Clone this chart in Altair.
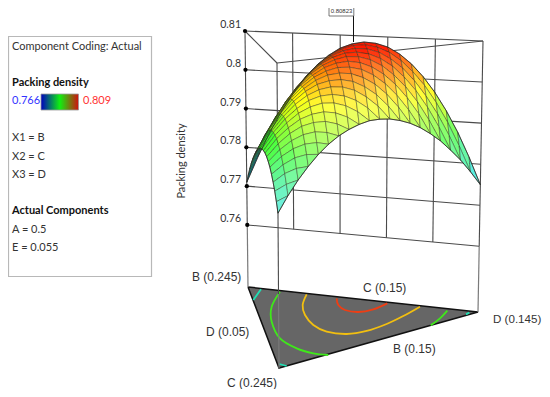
import altair as alt
import pandas as pd

ZF = 0.744
ZT = 0.81
B0, C0, D0 = (248, 287), (279, 368), (478, 312)
B1, C1, D1 = (245, 31), (277, 63), (483, 41)

# Packing density: row = C step, column = D step
z_rows = [
 [.7710,.7779,.7842,.7897,.7945,.7986,.8020,.8047,.8067,.8079,.8085,.8083,.8075,.8059,.8036,.8006,.7969,.7925,.7874,.7815,.7750],
 [.7736,.7802,.7862,.7914,.7959,.7997,.8029,.8052,.8069,.8079,.8082,.8077,.8066,.8047,.8021,.7989,.7949,.7902,.7847,.7786],
 [.7759,.7822,.7879,.7929,.7971,.8006,.8034,.8055,.8069,.8076,.8076,.8069,.8054,.8033,.8004,.7968,.7926,.7876,.7819],
 [.7780,.7840,.7894,.7941,.7980,.8013,.8038,.8056,.8067,.8071,.8068,.8058,.8041,.8016,.7985,.7946,.7900,.7847],
 [.7798,.7856,.7907,.7951,.7987,.8017,.8039,.8054,.8063,.8064,.8058,.8045,.8024,.7997,.7963,.7921,.7873],
 [.7814,.7869,.7917,.7958,.7992,.8018,.8038,.8050,.8056,.8054,.8045,.8029,.8006,.7976,.7939,.7894],
 [.7828,.7880,.7925,.7963,.7994,.8018,.8034,.8044,.8046,.8042,.8030,.8011,.7985,.7952,.7912],
 [.7840,.7889,.7931,.7966,.7994,.8015,.8029,.8035,.8035,.8027,.8013,.7991,.7962,.7926],
 [.7849,.7895,.7934,.7967,.7992,.8010,.8020,.8024,.8021,.8010,.7993,.7968,.7936],
 [.7856,.7899,.7935,.7965,.7987,.8002,.8010,.8011,.8005,.7991,.7971,.7943],
 [.7860,.7901,.7934,.7960,.7980,.7992,.7997,.7995,.7986,.7970,.7946],
 [.7862,.7900,.7930,.7954,.7970,.7980,.7982,.7977,.7965,.7946],
 [.7862,.7897,.7924,.7945,.7958,.7965,.7964,.7956,.7941],
 [.7859,.7891,.7916,.7934,.7944,.7948,.7944,.7933],
 [.7854,.7883,.7905,.7920,.7928,.7928,.7922],
 [.7847,.7873,.7892,.7904,.7909,.7907],
 [.7837,.7860,.7877,.7886,.7888],
 [.7825,.7846,.7859,.7865],
 [.7811,.7828,.7839],
 [.7794,.7809],
 [.7775],
]

c_red = [.0218,.1054,.1605,.1676,.1122,.0153]
d_red = [.3826,.3785,.400,.457,.5298,.6037]
c_yel = [.0123,.1553,.2809,.398,.4652,.4673,.4006,.2824,.1561,.0125]
d_yel = [.2534,.2167,.21,.2304,.2793,.366,.4619,.5648,.6543,.7461]
c_grn = [.0153,.2202,.4134,.6164,.7219,.763,.7635]
d_grn = [.137,.0732,.0472,.0561,.1143,.1812,.2464]
c_grn2 = [.0258,.1348,.238]
d_grn2 = [.8632,.8166,.7621]
c_cy1 = [.0118,.16]; d_cy1 = [.0549,.0016]
c_cy2 = [.948,.9635]; d_cy2 = [.0085,.0383]
c_cy3 = [.0208,.0468]; d_cy3 = [.9595,.9415]

z_ticks = [0.81, 0.80, 0.79, 0.78, 0.77, 0.76]
tick_labels = ["0.81", "0.8", "0.79", "0.78", "0.77", "0.76"]
wall_d = [0.2, 0.4, 0.6, 0.8]

def P(c, d, z):
    b = 1 - c - d
    h = (z - ZF) / (ZT - ZF)
    out = []
    for k in (0, 1):
        f = b*B0[k] + c*C0[k] + d*D0[k]
        t = b*B1[k] + c*C1[k] + d*D1[k]
        out.append(f + (t - f)*h)
    return out

stops = [(.766,(0,0,255)),(.7768,(0,225,235)),(.7875,(50,255,40)),(.7975,(255,255,0)),(.8075,(255,25,0))]
def base(z):
    if z <= stops[0][0]: return stops[0][1]
    for (a, ca), (b, cb) in zip(stops, stops[1:]):
        if z <= b:
            t = (z-a)/(b-a)
            return tuple(ca[k]+(cb[k]-ca[k])*t for k in range(3))
    return stops[-1][1]

def shade(col, f):
    if f < 0:
        return tuple(x*.62 for x in col)
    if f < 1:
        m = min(1.0, 0.42 + 0.85*f)
        return tuple(x*m for x in col)
    w = min(0.4, (f-1)*0.18)
    return tuple(x+(255-x)*w for x in col)

cells = []
for i in range(20):
    for j in range(20 - i):
        if i + j == 19:
            idx = [(i,j),(i+1,j),(i,j+1),(i,j)]
        else:
            idx = [(i,j),(i+1,j),(i+1,j+1),(i,j+1),(i,j)]
        pts = [P(a/20, b/20, z_rows[a][b]) for a, b in idx]
        zm = sum(z_rows[a][b] for a, b in idx[:-1])/(len(idx)-1)
        area = 0
        for p, q in zip(pts, pts[1:]):
            area += p[0]*q[1]-q[0]*p[1]
        area = -area/2
        ref = 44.0 if len(idx) == 5 else 22.0
        r, g, bb = shade(base(zm), area/ref)
        depth = 287 + 81*(i+.5)/20 + 25*(j+.5)/20
        cells.append((depth, f"c{i}_{j}", pts, f"rgb({r:.0f},{g:.0f},{bb:.0f})"))
cells.sort(key=lambda t: t[0])
rows = []
for n, (dp, name, pts, col) in enumerate(cells):
    for k, p in enumerate(pts):
        rows.append(dict(x=p[0], y=p[1], id=n, k=k, col=col))
df_s = pd.DataFrame(rows)

X = alt.X('x:Q', scale=alt.Scale(domain=[8, 542]), axis=None)
Y = alt.Y('y:Q', scale=alt.Scale(domain=[389, 8]), axis=None)
def lines(data, **kw):
    return alt.Chart(pd.DataFrame(data)).mark_line(**kw).encode(X, Y, detail='id:N', order='k:Q')

fl = [P(0,0,ZF), P(1,0,ZF), P(0,1,ZF), P(0,0,ZF)]
floor = lines([dict(x=p[0],y=p[1],id=0,k=k) for k,p in enumerate(fl)], fill='#666666', stroke='#111111', strokeWidth=1.5)

def contour(cs, ds, color):
    data = [dict(x=P(c,d,ZF)[0], y=P(c,d,ZF)[1], id=0, k=k) for k,(c,d) in enumerate(zip(cs,ds))]
    return lines(data, stroke=color, strokeWidth=1.8, interpolate='cardinal')
conts = [contour(c_red,d_red,'#ee3e14'), contour(c_yel,d_yel,'#f2bf10'), contour(c_grn,d_grn,'#3fe81a'),
         contour(c_grn2,d_grn2,'#3fe81a'), contour(c_cy1,d_cy1,'#1fe0b4'), contour(c_cy2,d_cy2,'#1fe0b4'), contour(c_cy3,d_cy3,'#1fe0b4')]

seg_dark, seg_grey = [], []
sid = 0
def seg(store, a, b):
    global sid
    store.append(dict(x=a[0],y=a[1],id=sid,k=0)); store.append(dict(x=b[0],y=b[1],id=sid,k=1)); sid += 1
for z in z_ticks:
    seg(seg_dark, P(0,0,z), P(0,1,z))
for d in wall_d:
    seg(seg_dark, P(0,d,.76), P(0,d,ZT))
seg(seg_dark, P(0,0,.76), P(0,0,ZT))
seg(seg_dark, P(0,1,.76), P(0,1,ZT))
seg(seg_dark, P(1,0,.76), P(1,0,ZT))
seg(seg_dark, P(0,0,ZT), P(1,0,ZT))
seg(seg_dark, P(1,0,ZT), P(0,1,ZT))
seg(seg_grey, P(0,0,ZF), P(0,0,.76))
seg(seg_grey, P(0,1,ZF), P(0,1,.76))
seg(seg_grey, P(1,0,ZF), P(1,0,.76))
wall = lines(seg_dark, stroke='#4a4a4a', strokeWidth=1.1)
wall2 = lines(seg_grey, stroke='#7a7a7a', strokeWidth=1.2)
dots = alt.Chart(pd.DataFrame([dict(x=P(0,0,z)[0],y=P(0,0,z)[1]) for z in z_ticks])).mark_circle(size=18,color='black',opacity=1).encode(X,Y)

surface = alt.Chart(df_s).mark_line(strokeWidth=0.6, stroke='#2e2e1a', strokeOpacity=.7).encode(
    X, Y, detail='id:N', order='k:Q', fill=alt.Fill('col:N', scale=None))

edge = [P(i/20,0,z_rows[i][0]) for i in range(21)]
edge2 = [P(0,j/20,z_rows[0][j]) for j in range(21)]
edge3 = [P(i/20,(20-i)/20,z_rows[i][20-i]) for i in range(21)]
outline = []
for n,e in enumerate((edge,edge2,edge3)):
    for k,p in enumerate(e):
        outline.append(dict(x=p[0],y=p[1],id=n,k=k))
outl = lines(outline, stroke='#2a2a2a', strokeWidth=0.8)

stem = alt.Chart(pd.DataFrame([dict(x=353.5,y=16),dict(x=353.5,y=42)])).mark_line(stroke='#111',strokeWidth=1).encode(X,Y)
flag = alt.Chart(pd.DataFrame([dict(x=329,y=6,x2=353.8,y2=16)])).mark_rect(fill='white',stroke='#555',strokeWidth=.8).encode(X,Y,x2='x2:Q',y2='y2:Q')

def texts(items, **kw):
    return alt.Chart(pd.DataFrame(items)).mark_text(**kw).encode(X,Y,text='t:N',color=alt.Color('c:N',scale=None))

SEG = 'Lato'
left = [dict(x=12,y=47,t='Component Coding: Actual',c='#333333'),
        dict(x=12,y=101,t='0.766',c='#3333ff'),dict(x=83,y=101,t='0.809',c='#ff3333'),
        dict(x=12,y=138,t='X1 = B',c='#333333'),dict(x=12,y=157,t='X2 = C',c='#333333'),dict(x=12,y=175,t='X3 = D',c='#333333'),
        dict(x=12,y=230,t='A = 0.5',c='#333333'),dict(x=12,y=248,t='E = 0.055',c='#333333')]
bold = [dict(x=12,y=83,t='Packing density',c='#111111'),dict(x=12,y=211,t='Actual Components',c='#111111')]
ticks = [dict(x=241,y=P(0,0,z)[1]-6,t=t,c='#333333') for z,t in zip(z_ticks,tick_labels)]
labels = [dict(x=192,y=277,t='B (0.245)',c='#333333'),dict(x=363,y=288,t='C (0.15)',c='#333333'),
          dict(x=206,y=332,t='D (0.05)',c='#333333'),
          dict(x=393,y=349,t='B (0.15)',c='#333333'),dict(x=227,y=383,t='C (0.245)',c='#333333')]

box = alt.Chart(pd.DataFrame([dict(x=8.5,y=36.5,x2=151.5,y2=276.5)])).mark_rect(fill='white',stroke='#b8b8b8',strokeWidth=1.2).encode(X,Y,x2='x2:Q',y2='y2:Q')
grad = alt.Chart(pd.DataFrame([dict(x=41,y=94,x2=78.5,y2=110)])).mark_rect(
    stroke='#999999',strokeWidth=.8,
    color=alt.Gradient(gradient='linear',x1=0,x2=1,y1=0,y2=0,stops=[
        alt.GradientStop(offset=0,color='#0000c0'),alt.GradientStop(offset=.5,color='#10f010'),alt.GradientStop(offset=1,color='#d01010')])
    ).encode(X,Y,x2='x2:Q',y2='y2:Q')

chart = alt.layer(
    box, grad,
    floor, *conts, wall2, wall, dots, surface, outl, stem, flag,
    texts(left, align='left', baseline='middle', font=SEG, fontSize=11),
    texts(bold, align='left', baseline='middle', font=SEG, fontSize=11, fontWeight='bold'),
    texts(ticks, align='right', baseline='middle', font=SEG, fontSize=10.5),
    texts(labels, align='left', baseline='middle', font='Liberation Sans', fontSize=12),
    texts([dict(x=493,y=320,t='D (0.145)',c='#333333')], align='left', baseline='middle', font='Liberation Sans', fontSize=11.6),
    texts([dict(x=341.5,y=11,t='0.80823',c='#333333')], align='center', baseline='middle', font='Liberation Sans', fontSize=6),
    texts([dict(x=182,y=161,t='Packing density',c='#333333')], align='center', baseline='middle', font=SEG, fontSize=11, angle=270),
).properties(width=534, height=381, padding=0, autosize='none', background='white').configure_view(stroke=None)

chart.save("out.html", embed_options={"renderer": "svg", "actions": False})
